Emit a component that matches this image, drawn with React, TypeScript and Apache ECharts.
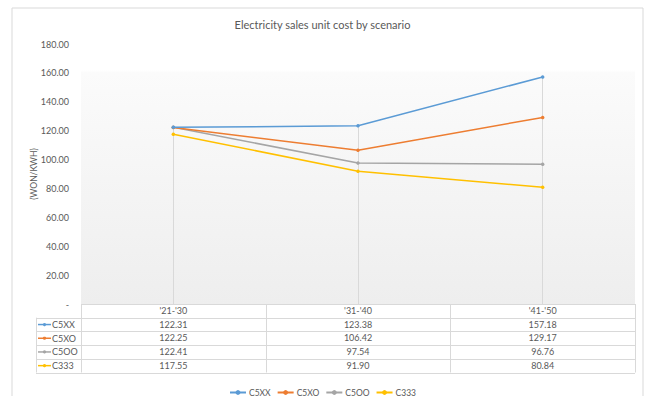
import React, { useEffect, useRef } from 'react';
import * as echarts from 'echarts';

const titleText = 'Electricity sales unit cost by scenario';
const yAxisName = '(WON/KWH)';
const categories = ["'21-'30", "'31-'40", "'41-'50"];
const seriesNames = ['C5XX', 'C5XO', 'C5OO', 'C333'];
const c5xx = [122.31, 123.38, 157.18];
const c5xo = [122.25, 106.42, 129.17];
const c5oo = [122.41, 97.54, 96.76];
const c333 = [117.55, 91.9, 80.84];
const seriesValues = [c5xx, c5xo, c5oo, c333];
const colors = ['#5B9BD5', '#ED7D31', '#A5A5A5', '#FFC000'];
const yMin = 0;
const yMax = 180;
const yStep = 20;

const W = 645;
const H = 396;
const gridLeft = 81;
const gridRight = 635;
const gridTop = 44;
const gridBottom = 304;
const rowH = 13.7;
const keyLeft = 36;
const textColor = '#595959';
const lineColor = '#d9d9d9';
const font = 'Lato';

export default function App() {
  const ref = useRef<HTMLDivElement>(null);
  useEffect(() => {
    if (!ref.current) return;
    const chart = echarts.init(ref.current, undefined, { renderer: 'svg' });
    const nRows = seriesNames.length;
    const tableBottom = gridBottom + rowH * (nRows + 1);
    const colW = (gridRight - gridLeft) / categories.length;
    const graphics: any[] = [];
    graphics.push({
      type: 'rect',
      shape: { x: 12, y: 8, width: 631, height: 400 },
      style: { fill: 'none', stroke: lineColor, lineWidth: 1 },
      silent: true,
    });
    for (let i = 0; i <= nRows + 1; i++) {
      const y = Math.round(gridBottom + rowH * i) + 0.5;
      graphics.push({
        type: 'line',
        shape: { x1: i === 0 ? gridLeft : keyLeft, y1: y, x2: gridRight, y2: y },
        style: { stroke: lineColor, lineWidth: 1 },
        silent: true,
      });
    }
    graphics.push({
      type: 'line',
      shape: { x1: keyLeft + 0.5, y1: gridBottom + rowH, x2: keyLeft + 0.5, y2: tableBottom },
      style: { stroke: lineColor, lineWidth: 1 },
      silent: true,
    });
    for (let c = 0; c <= categories.length; c++) {
      const x = Math.round(gridLeft + colW * c) + 0.5;
      graphics.push({
        type: 'line',
        shape: { x1: x, y1: gridBottom, x2: x, y2: tableBottom },
        style: { stroke: lineColor, lineWidth: 1 },
        silent: true,
      });
    }
    seriesNames.forEach((name, i) => {
      const cy = gridBottom + rowH * (i + 1) + rowH / 2;
      graphics.push({
        type: 'line',
        shape: { x1: 38, y1: cy, x2: 51, y2: cy },
        style: { stroke: colors[i], lineWidth: 1.5 },
        silent: true,
      });
      graphics.push({
        type: 'circle',
        shape: { cx: 44.5, cy, r: 1.6 },
        style: { fill: colors[i] },
        silent: true,
      });
      graphics.push({
        type: 'text',
        x: 52,
        y: cy,
        style: {
          text: name,
          fill: textColor,
          font: `9px ${font}`,
          verticalAlign: 'middle',
          align: 'left',
        },
        silent: true,
      });
    });

    const valueAxes = seriesValues.map((vals, i) => ({
      type: 'category',
      gridIndex: 0,
      position: 'bottom',
      offset: rowH * (i + 1),
      data: vals.map((v) => v.toFixed(2)),
      axisLine: { show: false },
      axisTick: { show: false },
      splitLine: { show: false },
      axisLabel: { margin: 2, fontSize: 9, color: textColor, fontFamily: font, interval: 0 },
    }));

    const dropData = categories.map((_, i) => {
      const mx = Math.max(...seriesValues.map((s) => s[i]));
      return [{ coord: [i, mx] }, { coord: [i, yMin] }];
    });

    chart.setOption({
      animation: false,
      textStyle: { fontFamily: font },
      title: {
        text: titleText,
        left: 'center',
        top: 14,
        textStyle: { fontSize: 11, fontWeight: 'normal', color: textColor, fontFamily: font },
      },
      grid: {
        left: gridLeft,
        right: W - gridRight,
        top: gridTop,
        bottom: H - gridBottom,
        show: true,
        borderWidth: 0,
        backgroundColor: new echarts.graphic.LinearGradient(0, 0, 0, 1, [
          { offset: 0, color: '#ffffff' },
          { offset: 0.1, color: '#ffffff' },
          { offset: 0.11, color: '#fbfbfb' },
          { offset: 1, color: '#eeeeee' },
        ]),
      },
      legend: {
        data: seriesNames,
        left: 'center',
        top: 383,
        itemWidth: 16,
        itemHeight: 6,
        itemGap: 6,
        textStyle: { fontSize: 8.5, color: textColor, fontFamily: font, padding: [0, 0, 0, -2] },
      },
      xAxis: [
        {
          type: 'category',
          data: categories,
          boundaryGap: true,
          axisLine: { show: false },
          axisTick: { show: false },
          splitLine: { show: false },
          axisLabel: { margin: 2, fontSize: 9, color: textColor, fontFamily: font, interval: 0 },
        },
        ...valueAxes,
      ],
      yAxis: {
        type: 'value',
        min: yMin,
        max: yMax,
        interval: yStep,
        name: yAxisName,
        nameLocation: 'middle',
        nameGap: 43,
        nameRotate: 90,
        nameMoveOverlap: false,
        nameTextStyle: { fontSize: 8.5, color: textColor, fontFamily: font },
        axisLine: { show: false },
        axisTick: { show: false },
        splitLine: { show: false },
        axisLabel: {
          fontSize: 9,
          color: textColor,
          fontFamily: font,
          margin: 12,
          formatter: (v: number) => (v === 0 ? '-' : v.toFixed(2)),
        },
      },
      series: seriesNames.map((name, i) => ({
        name,
        type: 'line',
        xAxisIndex: 0,
        data: seriesValues[i],
        color: colors[i],
        symbol: 'circle',
        symbolSize: 3.5,
        lineStyle: { width: 1.5, color: colors[i] },
        itemStyle: { color: colors[i] },
        z: 10 - i,
        markLine:
          i === 0
            ? {
                silent: true,
                symbol: ['none', 'none'],
                label: { show: false },
                lineStyle: { color: lineColor, width: 1, type: 'solid' },
                data: dropData,
                z: 1,
              }
            : undefined,
      })),
      graphic: graphics,
    });
    return () => chart.dispose();
  }, []);
  return (
    <div
      ref={ref}
      style={{ position: 'fixed', left: 0, top: 0, width: W, height: H, background: '#fff' }}
    />
  );
}
